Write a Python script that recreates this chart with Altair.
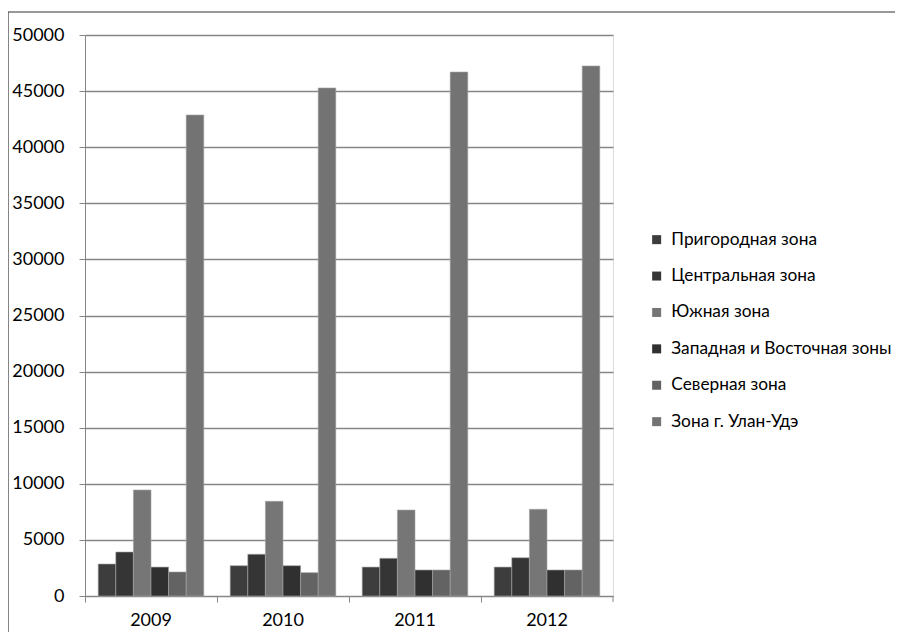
import altair as alt
import pandas as pd

years = ["2009", "2010", "2011", "2012"]
zones = ["Пригородная зона", "Центральная зона", "Южная зона",
         "Западная и Восточная зоны", "Северная зона", "Зона г. Улан-Удэ"]
values = {
    "Пригородная зона": [2850, 2700, 2580, 2580],
    "Центральная зона": [3920, 3720, 3360, 3410],
    "Южная зона": [9450, 8440, 7660, 7730],
    "Западная и Восточная зоны": [2580, 2700, 2320, 2320],
    "Северная зона": [2140, 2080, 2320, 2320],
    "Зона г. Улан-Удэ": [42870, 45280, 46700, 47240],
}
colors = ["#3d3d3d", "#353535", "#767676", "#303030", "#636363", "#737373"]
y_ticks = list(range(0, 50001, 5000))

rows = []
for z in zones:
    for y, v in zip(years, values[z]):
        rows.append({"year": y, "zone": z, "value": v})
df = pd.DataFrame(rows)

W, H = 528, 561
FONT = "Lato"
FS = 18

bars = alt.Chart(df).mark_bar(stroke="#a5a5a5", strokeWidth=0.6).encode(
    x=alt.X("year:N", title=None, sort=years,
            scale=alt.Scale(paddingInner=0, paddingOuter=0),
            axis=alt.Axis(labelAngle=0, bandPosition=0, grid=False,
                          domainColor="#868686", tickColor="#868686",
                          tickSize=6, labelFont=FONT, labelFontSize=FS,
                          labelColor="#000000", labelPadding=9,
                          labelBound=False, labelFlush=False)),
    xOffset=alt.XOffset("zone:N", sort=zones,
                        scale=alt.Scale(paddingInner=0, paddingOuter=0.75)),
    y=alt.Y("value:Q", title=None,
            scale=alt.Scale(domain=[0, 50000], nice=False),
            axis=alt.Axis(values=y_ticks, format="d", grid=True,
                          gridColor="#868686", gridWidth=1.3,
                          domainColor="#868686", tickColor="#868686",
                          tickSize=6, labelFont=FONT, labelFontSize=FS,
                          labelColor="#000000", labelPadding=15)),
    color=alt.Color("zone:N", sort=zones,
                    scale=alt.Scale(domain=zones, range=colors),
                    legend=alt.Legend(title=None, orient="none",
                                      legendX=563, legendY=196,
                                      symbolType="square", symbolSize=81,
                                      symbolStrokeWidth=0,
                                      labelFont=FONT, labelFontSize=17.3,
                                      labelColor="#000000", rowPadding=18.4,
                                      labelOffset=6, labelLimit=400)),
)

end_tick = alt.Chart(pd.DataFrame({"a": [0]})).mark_rule(color="#868686", strokeWidth=1).encode(
    x=alt.value(W), y=alt.value(H), y2=alt.value(H + 6))

frame_left = alt.Chart(pd.DataFrame({"a": [0]})).mark_rule(color="#333333", strokeWidth=1.2, clip=False).encode(
    x=alt.value(-77), y=alt.value(-23), y2=alt.value(H + 60))
frame_top = alt.Chart(pd.DataFrame({"a": [0]})).mark_rule(color="#333333", strokeWidth=1.2, clip=False).encode(
    x=alt.value(-77), x2=alt.value(W + 320), y=alt.value(-23))

chart = alt.layer(bars, end_tick, frame_left, frame_top).properties(
    width=W, height=H,
    autosize=alt.AutoSizeParams(type="none"),
    padding={"left": 77, "top": 27, "right": 282, "bottom": 36},
).configure_view(stroke=None).configure(background="#ffffff")

chart.save("out.html", embed_options={"renderer": "svg", "actions": False})
